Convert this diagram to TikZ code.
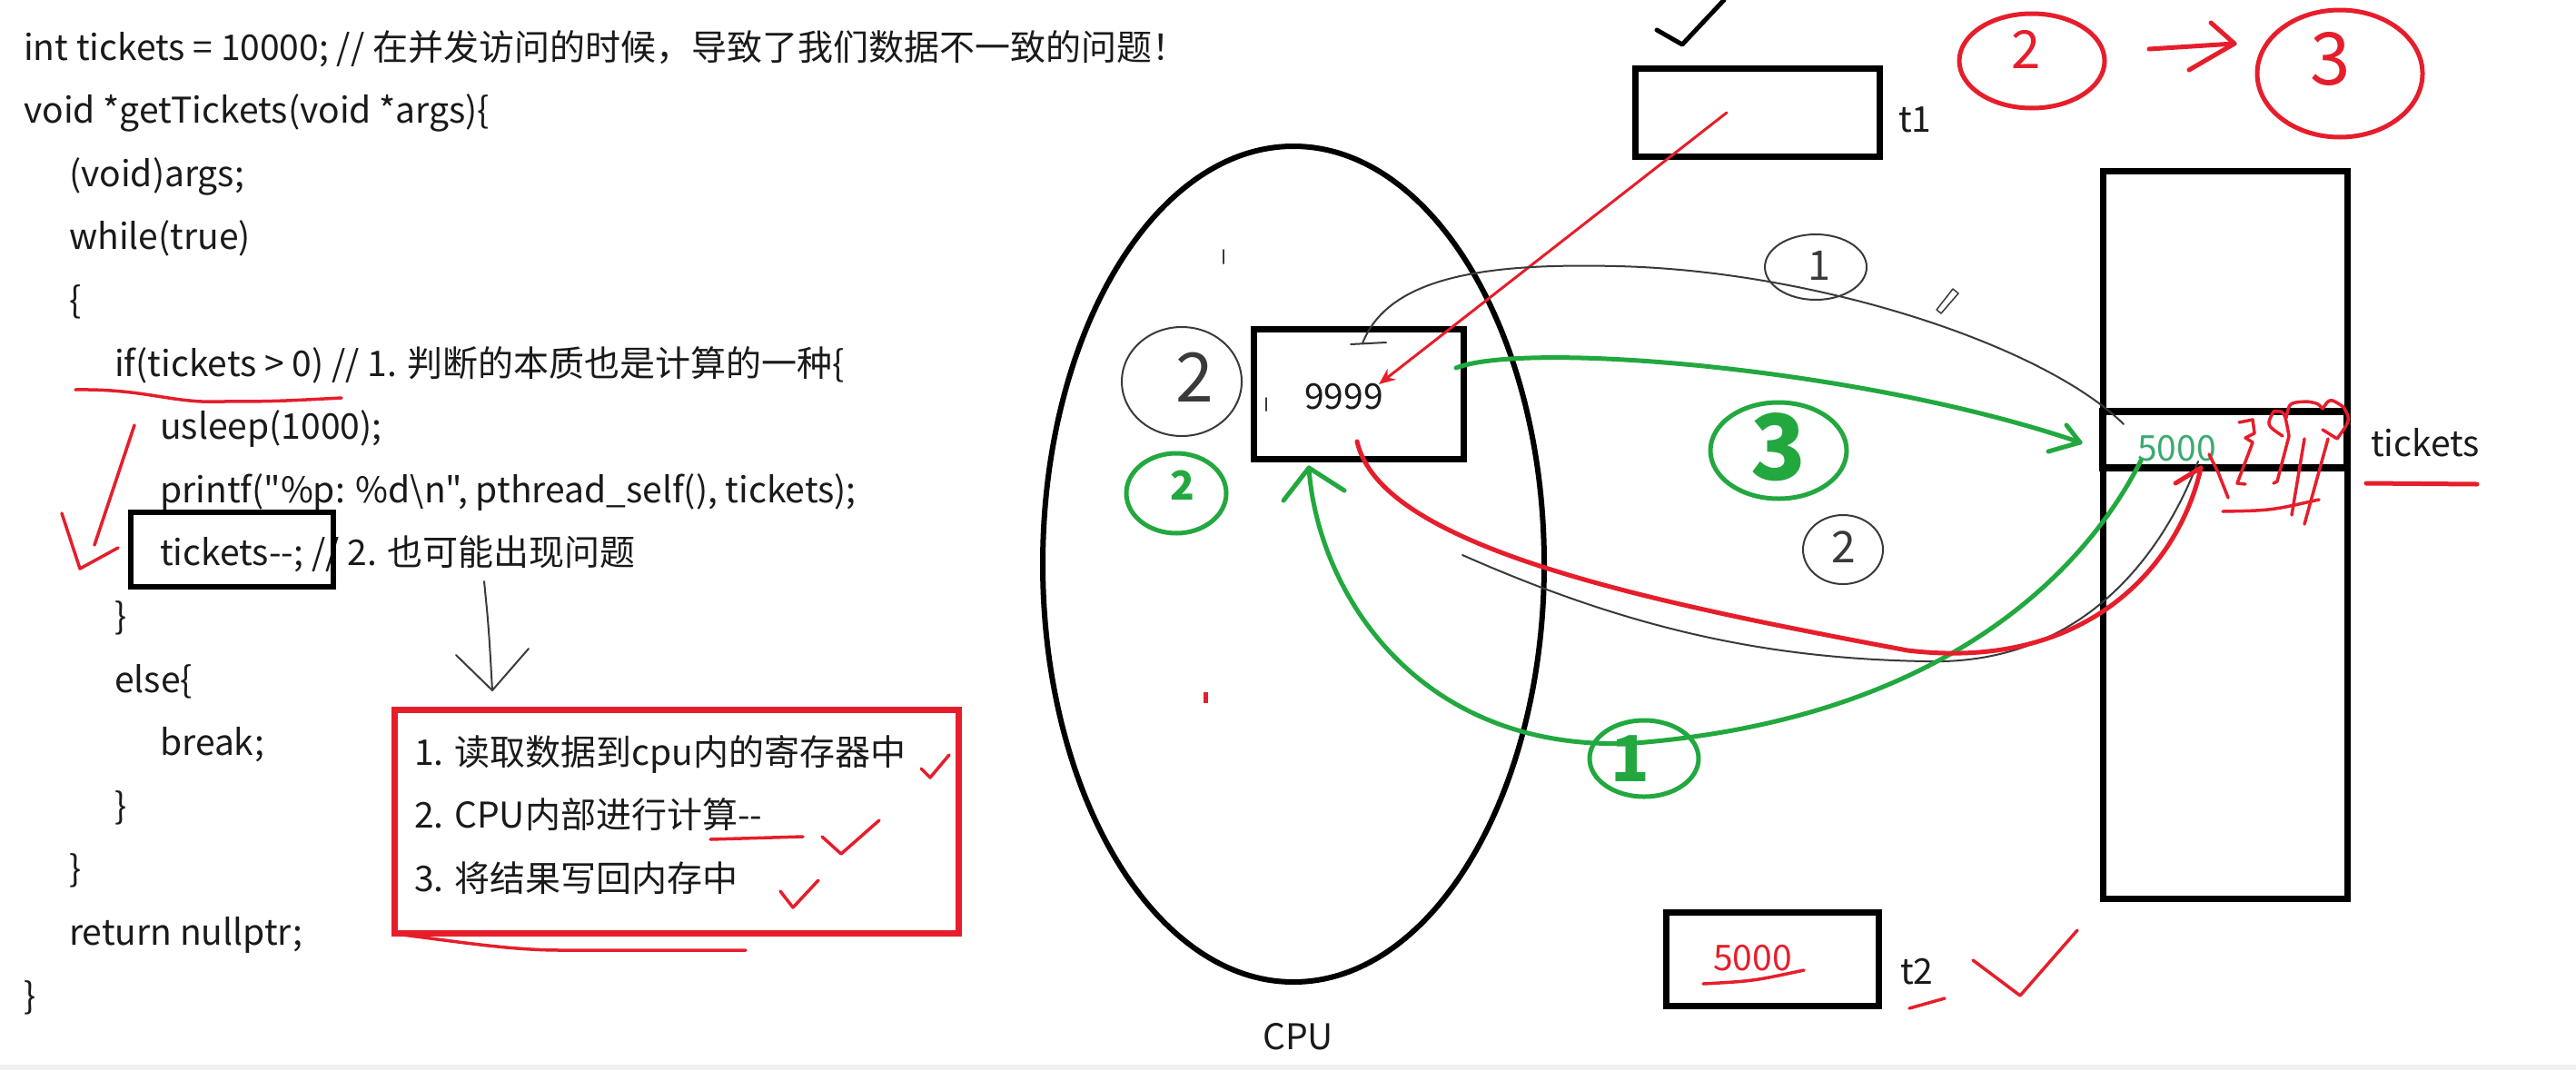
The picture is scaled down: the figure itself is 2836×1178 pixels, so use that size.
\documentclass[tikz,border=0pt]{standalone}
\usepackage{fontspec}
\newfontfamily\hw{Noto Sans CJK SC}
\usetikzlibrary{arrows.meta,shapes.geometric}
\definecolor{pred}{HTML}{E61E2B}
\definecolor{pgreen}{HTML}{22A83F}
\definecolor{tgreen}{HTML}{3BAA70}
\definecolor{pgray}{HTML}{3A3A3A}
\definecolor{ink}{HTML}{1A1A1A}
\begin{document}
\begin{tikzpicture}[x=1pt,y=-1pt,
  code/.style={font=\hw\fontsize{39}{47}\selectfont, anchor=base west, inner sep=0pt, text=ink},
  box/.style={draw=black, line width=7pt, inner sep=0pt},
  hand/.style={line cap=round, line join=round},
  redpen/.style={hand, draw=pred, line width=5pt},
  redthin/.style={hand, draw=pred, line width=3.5pt},
  greenpen/.style={hand, draw=pgreen, line width=5pt},
  pencil/.style={hand, draw=pgray, line width=2pt},
  blackpen/.style={hand, draw=black, line width=5pt},
  hcirc/.style={ellipse, inner sep=0pt},
  digit/.style={inner sep=0pt, anchor=center},
]
\useasboundingbox[fill=white] (0,0) rectangle (2836,1178);
\fill[gray!12] (0,1172) rectangle (2836,1178);

% ---------- code ----------
\node[code] (c0) at (26,66) {int tickets = 10000; // 在并发访问的时候，导致了我们数据不一致的问题！};
\node[code] (c1) at (26,135.6) {void *getTickets(void *args)\{};
\node[code] (c2) at (76,205.2) {(void)args;};
\node[code] (c3) at (76,274.8) {while(true)};
\node[code] (c4) at (76,344.4) {\{};
\node[code] (c5) at (126,414) {if(tickets > 0) // 1. 判断的本质也是计算的一种\{};
\node[code] (c6) at (176,483.6) {usleep(1000);};
\node[code] (c7) at (176,553.2) {printf("\%p: \%d\textbackslash n", pthread\_self(), tickets);};
\node[code] (c8) at (176,622.8) {tickets--; // 2. 也可能出现问题};
\node[code] (c9) at (126,692.4) {\}};
\node[code] (c10) at (126,762) {else\{};
\node[code] (c11) at (176,831.6) {break;};
\node[code] (c12) at (126,901.2) {\}};
\node[code] (c13) at (76,970.8) {\}};
\node[code] (c14) at (76,1040.4) {return nullptr;};
\node[code] (c15) at (26,1110) {\}};

\node[box, line width=6pt, minimum width=223pt, minimum height=82pt] (decbox) at (255.5,605) {};

% ---------- list ----------
\node[box, draw=pred, minimum width=621pt, minimum height=246pt] (listbox) at (744.5,904) {};
\node[code] (l1) at (456,842) {1. 读取数据到cpu内的寄存器中};
\node[code] (l2) at (456,911) {2. CPU内部进行计算--};
\node[code] (l3) at (456,981) {3. 将结果写回内存中};

% arrow from comment to list
\coordinate (da) at (533,640);
\coordinate (db) at (542,760);
\draw[pencil] (da) .. controls (538,690) .. (db);
\draw[pencil] (db) ++(-40,-39) -- (db) -- ++(40,-46);

% red marks on the code
\draw[redthin] (83,429) .. controls (150,428) and (180,440) .. (222,442) .. controls (300,442) .. (376,438);
\draw[redthin] (148,468) -- (104,600);
\draw[redthin] (68,565) -- (88,626) -- (130,603);
\draw[redthin] (435,1028) .. controls (500,1036) and (560,1046) .. (617,1046) -- (821,1046);
\draw[redthin] (1014,846) -- (1024,856) -- (1045,831);
\draw[redthin] (782,924) -- (884,921);
\draw[redthin] (905,921) -- (926,940) -- (968,903);
\draw[redthin] (859,981) -- (873,999) -- (901,969);

% ---------- CPU ----------
\node[draw, ellipse, line width=6pt, minimum width=552pt, minimum height=920pt, inner sep=0pt] (cpu) at (1424,621) {};
\node[code] (cpul) at (1390,1155) {CPU};
\node[box, minimum width=231pt, minimum height=143pt] (reg) at (1495.5,433.5) {};
\node[code] (v9999) at (1436,450) {9999};
\draw[pencil] (1347,275) -- (1347,290);
\draw[pencil] (1394,438) -- (1394,452);
\fill[pred] (1325,762) rectangle (1330,774);

% ---------- threads ----------
\node[box, minimum width=269pt, minimum height=97pt] (t1box) at (1934.5,123.5) {};
\node[code] (t1) at (2090,145) {t1};
\draw[blackpen] (1824,33) -- (1852,49) -- (1898,0);
\node[box, minimum width=234pt, minimum height=103pt] (t2box) at (1951,1055.5) {};
\node[code, text=pred] (w5000) at (1886,1068) {5000};
\node[code] (t2) at (2092,1083) {t2};
\draw[redthin] (1875,1083) .. controls (1930,1080) .. (1986,1068);
\draw[redthin] (2102,1110) -- (2141,1099);
\draw[redthin] (2172,1057) -- (2224,1096) -- (2287,1024);

% ---------- memory ----------
\node[box, minimum width=269pt, minimum height=801pt] (mem) at (2449.5,588.5) {};
\node[box, line width=8pt, minimum width=269pt, minimum height=62pt] (cell) at (2449.5,484) {};
\node[code, text=tgreen] (v5000) at (2353,507) {5000};
\node[code] (tk) at (2610,502) {tickets};
\draw[redpen] (2605,532) -- (2727,533);

% ---------- red 2 -> 3 ----------
\node[hcirc, redpen, minimum width=160pt, minimum height=104pt] (rc2) at (2237,67) {};
\node[digit, text=pred, font=\hw\fontsize{58}{58}\selectfont] (r2) at (2231,54) {2};
\node[hcirc, redpen, minimum width=182pt, minimum height=140pt] (rc3) at (2576,81) {};
\node[digit, text=pred, font=\hw\fontsize{80}{80}\selectfont] (r3) at (2566,65) {3};
\coordinate (rs) at (2366,54);
\coordinate (re) at (2460,48);
\draw[redpen] (rs) -- (re);
\draw[redpen] (re) ++(-26,-23) -- (re) -- ++(-50,29);

% ---------- red arrow t1 -> register ----------
\coordinate (ra) at (1901,124);
\coordinate (rb) at (1518,423);
\draw[hand, draw=pred, line width=3pt, -{Stealth[length=18pt,width=15pt]}] (ra) -- (rb);

% ---------- circled step numbers ----------
\node[hcirc, pencil, minimum width=132pt, minimum height=120pt] (bc2l) at (1301,420) {};
\node[digit, text=pgray, font=\hw\fontsize{75}{75}\selectfont] (b2l) at (1315,415) {2};
\node[hcirc, greenpen, minimum width=110pt, minimum height=88pt] (gc2) at (1295,543) {};
\node[digit, text=pgreen, font=\hw\bfseries\fontsize{44}{44}\selectfont] (g2) at (1302,534) {2};
\node[hcirc, pencil, minimum width=112pt, minimum height=72pt] (bc1) at (1999,294) {};
\node[digit, text=pgray, font=\hw\fontsize{45}{45}\selectfont] (b1) at (2003,292) {1};
\node[hcirc, pencil, minimum width=88pt, minimum height=76pt] (bc2) at (2029,605) {};
\node[digit, text=pgray, font=\hw\fontsize{48}{48}\selectfont] (b2) at (2030,602) {2};
\node[hcirc, greenpen, minimum width=150pt, minimum height=106pt] (gc3) at (1958,496) {};
\node[digit, text=pgreen, font=\hw\bfseries\fontsize{100}{100}\selectfont] (g3) at (1958,492) {3};
\node[hcirc, greenpen, minimum width=120pt, minimum height=84pt] (gc1) at (1810,835) {};
\node[digit, text=pgreen, font=\hw\bfseries\fontsize{70}{70}\selectfont] (g1) at (1795,835) {1};

% ---------- pencil curves ----------
\coordinate (p1s) at (1500,378);
\coordinate (p1e) at (2338,467);
\draw[pencil] (1487,379) -- (1526,377);
\draw[pencil] (p1s) .. controls (1530,300) and (1650,290) .. (1780,293) .. controls (2000,298) and (2250,380) .. (p1e);
\coordinate (p2s) at (1610,611);
\coordinate (p2e) at (2420,508);
\draw[pencil] (p2s) .. controls (1800,695) and (1950,725) .. (2120,728) .. controls (2300,733) and (2385,600) .. (p2e);
\draw[pencil, line width=1.5pt] (2150,318) -- (2156,323) -- (2137,345) -- (2132,341) -- cycle;

% ---------- green 3 : register -> memory ----------
\coordinate (g3s) at (1603,405);
\coordinate (g3e) at (2290,487);
\draw[greenpen] (g3s) .. controls (1680,375) and (2050,405) .. (g3e);
\draw[greenpen] (g3e) ++(-15,-19) -- (g3e) -- ++(-35,10);

% ---------- green 1 : memory -> register ----------
\coordinate (g1s) at (2357,507);
\coordinate (g1e) at (1441,515);
\draw[greenpen] (g1s) .. controls (2300,620) and (2150,790) .. (1800,818) .. controls (1560,830) and (1450,650) .. (g1e);
\draw[greenpen] (g1e) ++(-28,36) -- (g1e) -- ++(39,25);

% ---------- red 2 : register -> memory ----------
\coordinate (r2s) at (1494,486);
\coordinate (r2e) at (2423,515);
\draw[redpen] (r2s) .. controls (1520,600) and (1800,660) .. (2100,716) .. controls (2300,740) and (2400,620) .. (r2e);
\draw[redpen] (r2e) -- ++(-28,17);
\draw[redthin] (2432,500) -- (2442,520) -- (2453,548);

% red scribbles near the cell
\draw[redthin] (2465,465) -- (2480,462) -- (2482,477) -- (2472,482) -- (2480,487) -- (2463,532) -- (2472,533);
\draw[redthin] (2513,480) .. controls (2495,468) .. (2503,453) .. controls (2515,452) .. (2520,480) -- (2507,530) -- (2503,532);
\draw[redthin] (2517,460) .. controls (2520,443) .. (2540,442) .. controls (2552,444) .. (2557,450) .. controls (2565,438) .. (2580,448) .. controls (2588,462) .. (2573,483) -- (2557,473);
\draw[redthin] (2537,483) -- (2523,567);
\draw[redthin] (2563,483) -- (2537,577);
\draw[redthin] (2447,563) .. controls (2500,562) .. (2553,550);
\end{tikzpicture}
\end{document}
